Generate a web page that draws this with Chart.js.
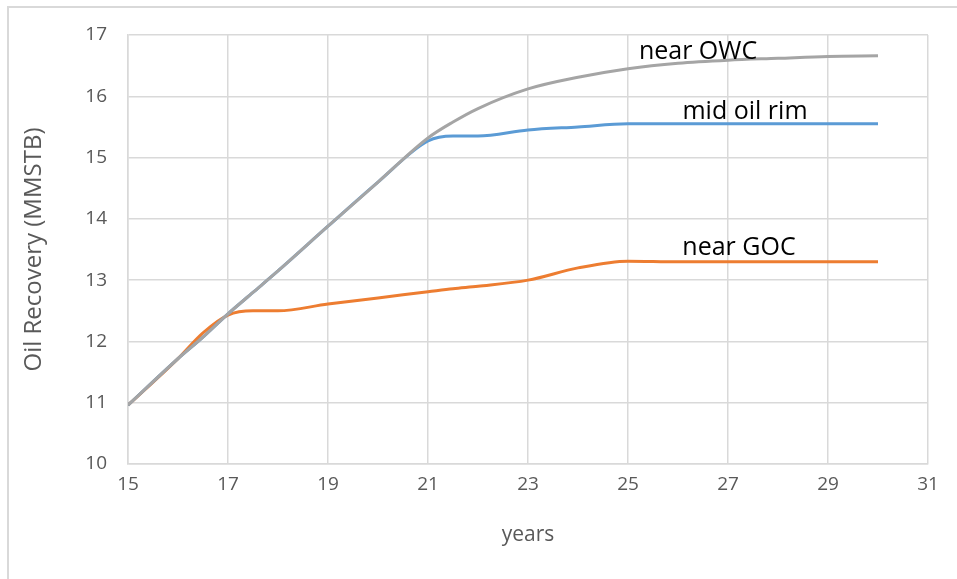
<!DOCTYPE html>
<html>
<head>
<meta charset="utf-8">
<script src="https://cdn.jsdelivr.net/npm/chart.js@4.4.1/dist/chart.umd.min.js"></script>
<style>
  html, body { margin: 0; padding: 0; background: #fff; }
  #wrap { position: relative; width: 957px; height: 579px; }
  #frame { position: absolute; left: 7px; top: 6px; right: -2px; bottom: -2px; border: 2px solid #d9d9d9; box-sizing: border-box; }
</style>
</head>
<body>
<div id="wrap">
  <div id="frame"></div>
  <canvas id="recovery_chart" width="957" height="579"></canvas>
</div>
<script>
// years since start, shared by all three wells
var years = [15, 16, 16.5, 17, 17.5, 18, 19, 20, 21, 21.5, 22, 23, 24, 25, 26, 27, 28, 29, 30];

var nearOWC   = [10.96, 11.72, 12.07, 12.45, 12.8, 13.15, 13.88, 14.6, 15.32, 15.58, 15.8, 16.12, 16.31, 16.45, 16.54, 16.59, 16.62, 16.65, 16.66];
var midOilRim = [10.96, 11.72, 12.07, 12.45, 12.8, 13.15, 13.88, 14.6, 15.27, 15.35, 15.35, 15.45, 15.5, 15.55, 15.55, 15.55, 15.55, 15.55, 15.55];
var nearGOC   = [10.96, 11.72, 12.14, 12.43, 12.5, 12.5, 12.61, 12.71, 12.81, 12.86, 12.9, 13.0, 13.2, 13.31, 13.3, 13.3, 13.3, 13.3, 13.3];

// line labels, placed in data units
var lineLabels = ['near OWC', 'mid oil rim', 'near GOC'];
var labelX = [26.4, 27.34, 27.22];
var labelY = [16.73, 15.75, 13.52];

function toPoints(ys) {
    return years.map(function (x, i) { return { x: x, y: ys[i] }; });
}

function lineSet(name, values, colour) {
    return {
        label: name,
        data: toPoints(values),
        borderColor: colour,
        backgroundColor: colour,
        borderWidth: 3,
        pointRadius: 0,
        showLine: true,
        fill: false,
        cubicInterpolationMode: 'monotone'
    };
}

// writes the series names next to their lines
var lineLabelPlugin = {
    id: 'lineLabels',
    afterDatasetsDraw: function (chart) {
        var ctx = chart.ctx;
        var xs = chart.scales.x, ys = chart.scales.y;
        ctx.save();
        ctx.fillStyle = '#000';
        ctx.font = '25px "Open Sans", sans-serif';
        ctx.textAlign = 'center';
        ctx.textBaseline = 'middle';
        for (var i = 0; i < lineLabels.length; i++) {
            ctx.fillText(lineLabels[i], xs.getPixelForValue(labelX[i]), ys.getPixelForValue(labelY[i]));
        }
        ctx.restore();
    }
};

var tickFont = { family: '"Open Sans", sans-serif', size: 19 };
var gridColour = '#d9d9d9';

var config = {
    type: 'scatter',
    data: {
        datasets: [
            lineSet('near OWC', nearOWC, '#a5a5a5'),
            lineSet('mid oil rim', midOilRim, '#5b9bd5'),
            lineSet('near GOC', nearGOC, '#ed7d31')
        ]
    },
    options: {
        responsive: false,
        animation: false,
        layout: { padding: { left: 8, top: 35, right: 29, bottom: 29 } },
        plugins: {
            legend: { display: false },
            tooltip: { enabled: false }
        },
        scales: {
            x: {
                type: 'linear',
                min: 15,
                max: 31,
                ticks: { stepSize: 2, color: '#595959', font: tickFont, padding: 9, maxRotation: 0 },
                grid: { color: gridColour, lineWidth: 1.5, drawTicks: false },
                border: { color: gridColour, width: 1.5 },
                title: { display: true, text: 'years', color: '#595959', font: { family: '"Open Sans", sans-serif', size: 21 }, padding: { top: 4, bottom: 2 } },
                afterFit: function (scale) { scale.height = 86; }
            },
            y: {
                min: 10,
                max: 17,
                ticks: { stepSize: 1, color: '#595959', font: tickFont, padding: 21 },
                grid: { color: gridColour, lineWidth: 1.5, drawTicks: false },
                border: { color: gridColour, width: 1.5 },
                title: { display: true, text: 'Oil Recovery (MMSTB)', color: '#595959', font: { family: '"Open Sans", sans-serif', size: 24 }, padding: { top: 12, bottom: 4 } },
                afterFit: function (scale) { scale.width = 120; }
            }
        }
    },
    plugins: [lineLabelPlugin]
};

var $element = document.getElementById('recovery_chart');
var recoveryChart = new Chart($element.getContext('2d'), config);
</script>
</body>
</html>
